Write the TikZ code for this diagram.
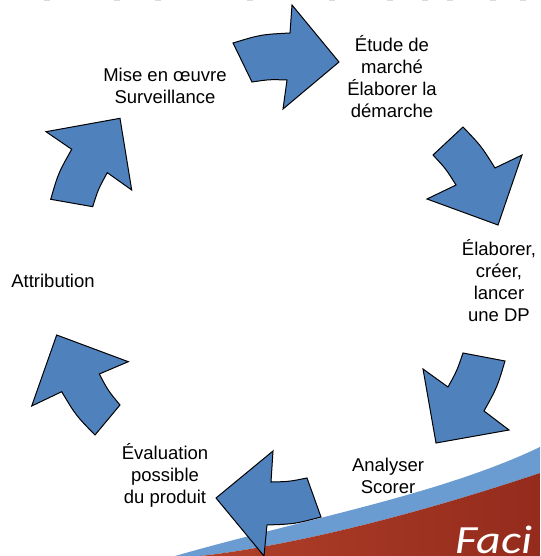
\documentclass[tikz,border=0pt]{standalone}
\usepackage{fontspec}
\setmainfont{Liberation Sans}
\newfontfamily\swooshfont[FakeStretch=1.2]{Carlito}
\definecolor{arrowblue}{HTML}{4F81BD}
\definecolor{bandblue}{HTML}{6A9BD1}
\definecolor{redleft}{HTML}{B0402A}
\definecolor{redright}{HTML}{942B1C}
\definecolor{dashgray}{HTML}{DADADA}
\begin{document}
\begin{tikzpicture}[x=1pt,y=-1pt,
  arrowshape/.style={fill=arrowblue, draw=black, line width=1pt, line join=miter},
  lbl/.style={font=\fontsize{18.5}{22}\selectfont, align=center, text=black, inner sep=0pt},
]
\useasboundingbox (0,0) rectangle (540,556);
\clip (0,0) rectangle (540,556);
\fill[white] (0,0) rectangle (540,556);

% faint marks along the top edge
\foreach \x in {47,117,158,250,332,390,425,450,493,523}
  \draw[dashgray, line width=1.5pt] (\x-3,0.3) -- (\x+3,0.3);

% swoosh at the bottom right
\fill[bandblue] (175,556) .. controls (300,520) and (440,495) .. (540,447)
  -- (540,473) .. controls (430,510) and (300,545) .. (200,556) -- cycle;
\shade[left color=redleft, right color=redright]
  (200,556) .. controls (300,545) and (430,510) .. (540,473) -- (540,556) -- cycle;
\node[font=\swooshfont\itshape\fontsize{40}{40}\selectfont, text=white,
      anchor=base west, inner sep=0pt] (faci) at (455,553) {Faci};

% curved arrows
\path[arrowshape] (233,43) .. controls (261,34.5) .. (290,33) -- (292,5) -- (339,62)
  -- (283,109) -- (287,80) .. controls (269.4,79.4) .. (252,82) -- cycle;
\path[arrowshape] (433,155) -- (463,127) .. controls (481.1,145.9) .. (495,168)
  -- (522,155) -- (498,225) -- (427,199) -- (456,185)
  .. controls (445.9,168.9) .. (433,155) -- cycle;
\path[arrowshape] (463,353) -- (505,361) .. controls (497.2,387.2) .. (484,411)
  -- (509,430) -- (436,443) -- (423,369) -- (448,387)
  .. controls (457,370.6) .. (463,353) -- cycle;
\path[arrowshape] (307,478) -- (321,517) .. controls (294.4,524) .. (267,525)
  -- (264,556) -- (216,498) -- (273,451) -- (271,482)
  .. controls (289,481.6) .. (307,478) -- cycle;
\path[arrowshape] (120,405) -- (95,435) .. controls (75.8,415.3) .. (61.7,391.7)
  -- (31.7,406) -- (56.7,335) -- (128.3,361.7) -- (99.3,374)
  .. controls (108,390.5) .. (120,405) -- cycle;
\path[arrowshape] (92.7,206.7) -- (50.7,199.3) .. controls (58.3,173.1) .. (71.7,149.3)
  -- (46,131.7) -- (120,118.3) -- (131.7,190) -- (107.3,172.7)
  .. controls (98.3,189) .. (92.7,206.7) -- cycle;

% labels
\node[lbl] (etude) at (392,77) {Étude de\\marché\\Élaborer la\\démarche};
\node[lbl] (elab) at (499,281) {Élaborer,\\créer,\\lancer\\une DP};
\node[lbl] (analy) at (388,476) {Analyser\\Scorer};
\node[lbl] (eval) at (165,475) {Évaluation\\possible\\du produit};
\node[lbl] (attr) at (53,281) {Attribution};
\node[lbl] (mise) at (165,86) {Mise en œuvre\\Surveillance};
\end{tikzpicture}
\end{document}
